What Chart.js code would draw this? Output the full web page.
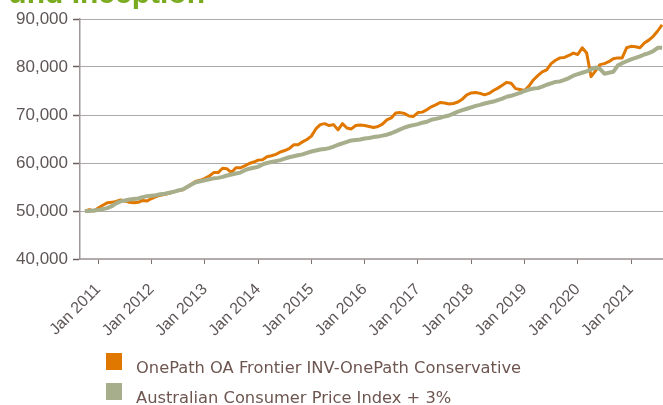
<!DOCTYPE html>
<html>
<head>
<meta charset="utf-8">
<script src="https://cdn.jsdelivr.net/npm/chart.js@4.4.1/dist/chart.umd.min.js"></script>
<style>
  html, body { margin: 0; padding: 0; background: #ffffff; overflow: hidden; }
  #wrap { position: relative; width: 663px; height: 405px; overflow: hidden; }
  #chart { position: absolute; left: 0; top: 0; }
  #title { position: absolute; right: 458px; top: -22px; white-space: nowrap;
           font-family: "Liberation Sans", Arial, sans-serif; font-weight: bold; font-size: 30px;
           line-height: 30px; color: #7aab1f; }
  .leg { position: absolute; left: 106px; font-family: "DejaVu Sans", Verdana, sans-serif;
         font-size: 16.3px; line-height: 16.3px; color: #6e5650; white-space: nowrap; }
  .leg .box { position: absolute; left: 0; width: 16px; height: 17px; }
  .leg .txt { position: absolute; left: 30px; }
</style>
</head>
<body>
<div id="wrap">
  <canvas id="chart" width="663" height="405"></canvas>
  <div id="title">Growth of $50,000 since Fund Inception</div>
  <div class="leg" id="leg1" style="top:353px;"><div class="box" style="top:0;background:#e07800;"></div><div class="txt" style="top:7px;"></div></div>
  <div class="leg" id="leg2" style="top:383px;"><div class="box" style="top:0;background:#a6ae8c;"></div><div class="txt" style="top:7px;"></div></div>
</div>
<script>
// ---- data ----
const seriesNames = ['OnePath OA Frontier INV-OnePath Conservative', 'Australian Consumer Price Index + 3%'];
const tickLabels = ['Jan 2011','Jan 2012','Jan 2013','Jan 2014','Jan 2015','Jan 2016','Jan 2017','Jan 2018','Jan 2019','Jan 2020','Jan 2021'];
const firstMonthOffset = -3; // Oct 2010, months relative to Jan 2011 (monthly points)
const fundValues = [
  50000,50300,50000,50600,51200,51700,51800,52000,52300,52100,51800,51700,51800,52200,52100,
  52600,53000,53300,53500,53700,54000,54200,54400,55000,55600,56200,56400,
  56800,57300,58000,58000,58900,58800,58000,59000,59000,59400,59900,60200,
  60600,60700,61300,61500,61800,62300,62600,63000,63800,63800,64400,64900,
  65600,67100,68000,68200,67800,68000,66900,68200,67300,67100,67800,67900,
  67800,67600,67400,67600,68100,69000,69400,70400,70500,70300,69800,69700,
  70500,70600,71100,71700,72100,72600,72500,72300,72400,72700,73300,74200,
  74600,74700,74500,74200,74500,75100,75600,76200,76800,76600,75500,75300,
  75100,76000,77300,78200,79000,79400,80700,81400,81900,82000,82400,82900,
  82600,84000,82900,78000,79200,80500,80700,81100,81700,81900,81900,84000,
  84300,84200,84000,85000,85600,86400,87500,88800
];
const cpiValues = [
  50000,50000,50100,50200,50400,50600,51000,51600,52000,52200,52400,52500,52600,52900,53100,
  53200,53300,53500,53600,53800,54000,54300,54500,55000,55500,56000,56200,
  56400,56600,56800,56900,57100,57400,57600,57800,58000,58500,58800,59000,
  59200,59700,60000,60200,60400,60600,60900,61200,61400,61600,61800,62100,
  62400,62600,62800,62900,63100,63400,63800,64100,64400,64700,64800,64900,
  65100,65200,65400,65500,65700,65900,66200,66600,67000,67400,67700,67900,
  68100,68400,68600,69000,69200,69400,69700,69900,70300,70700,71000,71300,
  71600,71900,72100,72400,72600,72800,73100,73400,73800,74000,74300,74600,
  75000,75300,75500,75600,75900,76300,76600,76900,77000,77300,77700,78200,
  78500,78800,79100,79500,79900,79600,78600,78800,79000,80300,80800,81200,
  81600,81900,82200,82600,82900,83300,84000,84000
];
const yTicks = [40000, 50000, 60000, 70000, 80000, 90000];

const fundColor = '#e07800';
const cpiColor = '#a6ae8c';

document.querySelector('#leg1 .txt').textContent = seriesNames[0];
document.querySelector('#leg2 .txt').textContent = seriesNames[1];

const toPoints = arr => arr.map((v, i) => ({ x: firstMonthOffset + i, y: v }));

new Chart(document.getElementById('chart'), {
  type: 'line',
  data: {
    datasets: [
      { label: seriesNames[0], data: toPoints(fundValues), borderColor: fundColor, backgroundColor: fundColor,
        borderWidth: 3, pointRadius: 0, tension: 0, order: 1, borderJoinStyle: 'round' },
      { label: seriesNames[1], data: toPoints(cpiValues), borderColor: cpiColor, backgroundColor: cpiColor,
        borderWidth: 4, pointRadius: 0, tension: 0, order: 0, borderJoinStyle: 'round' }
    ]
  },
  options: {
    responsive: false,
    animation: false,
    devicePixelRatio: 1,
    layout: { padding: { top: 19, right: 0, left: 0, bottom: 0 } },
    plugins: { legend: { display: false }, tooltip: { enabled: false }, title: { display: false } },
    scales: {
      x: {
        type: 'linear',
        min: -4.12,
        max: 127.2,
        afterFit: s => { s.height = 146; },
        afterBuildTicks: s => { s.ticks = tickLabels.map((_, i) => ({ value: i * 12 })); },
        grid: { drawOnChartArea: false, drawTicks: true, tickLength: 5, tickColor: '#7a7070', tickWidth: 1 },
        border: { display: true, color: '#b4acac', width: 1.5 },
        ticks: {
          autoSkip: false, minRotation: 45, maxRotation: 45, padding: 16,
          color: '#5f5757', font: { family: 'Liberation Sans', size: 16 },
          callback: v => tickLabels[Math.round(v / 12)]
        }
      },
      y: {
        min: 40000, max: 90000,
        afterFit: s => { s.width = 80; },
        afterBuildTicks: s => { s.ticks = yTicks.map(v => ({ value: v })); },
        grid: { color: '#5a5252', lineWidth: 1, tickLength: 7, tickColor: '#6a6060', tickWidth: 1.5 },
        border: { display: true, color: '#a09696', width: 1.5, dash: [1, 1] },
        ticks: {
          padding: 5, color: '#5f5757', font: { family: 'Liberation Sans', size: 17 },
          callback: v => v.toLocaleString('en-US')
        }
      }
    }
  }
});
</script>
</body>
</html>
